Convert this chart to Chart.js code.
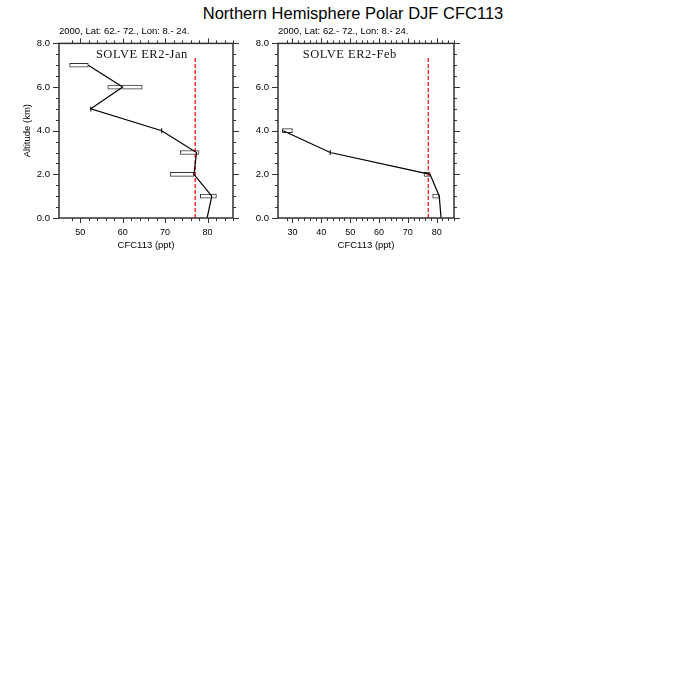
<!DOCTYPE html>
<html>
<head>
<meta charset="utf-8">
<script src="https://cdn.jsdelivr.net/npm/chart.js@4.4.0/dist/chart.umd.min.js"></script>
<style>
  body { margin: 0; background: #fff; }
  #page { position: relative; width: 700px; height: 700px; background: #fff; }
  #title { position: absolute; left: 3px; top: 3px; width: 700px; text-align: center;
           font: 16.5px "Liberation Sans", Arial, sans-serif; color: #000; line-height: 20px; }
  #janCanvas { position: absolute; left: 0; top: 20px; }
  #febCanvas { position: absolute; left: 250px; top: 20px; }
</style>
</head>
<body>
<div id="page">
  <div id="title">Northern Hemisphere Polar DJF CFC113</div>
  <canvas id="janCanvas" width="250" height="245"></canvas>
  <canvas id="febCanvas" width="220" height="245"></canvas>
</div>
<script>
var subTitle = '2000, Lat: 62.- 72., Lon: 8.- 24.';
var xTitle = 'CFC113 (ppt)';
var yTitle = 'Altitude (km)';
var yRange = [0, 8];
var refAlt = [0, 7.4];

// January panel
var janLabel = 'SOLVE ER2-Jan';
var janAlt = [0, 1, 2, 3, 4, 5, 6, 7];
var janLine = [79.9, 81.0, 76.8, 77.4, 69.2, 52.5, 60.0, 51.9];
var janLo = [null, 78.3, 71.2, 73.6, 69.2, 52.5, 56.5, 47.5];
var janHi = [null, 82.1, 76.8, 78.0, 69.2, 52.5, 64.6, 51.9];
var janRef = 77.1;
var janX = [45, 86];

// February panel
var febLabel = 'SOLVE ER2-Feb';
var febAlt = [0, 1, 2, 3, 4];
var febLine = [81.5, 80.9, 77.7, 43.1, 26.8];
var febLo = [null, 78.6, 75.6, 43.1, 26.5];
var febHi = [null, 80.9, 77.7, 43.1, 30.0];
var febRef = 77.1;
var febX = [25, 86];

var sans = '"Liberation Sans", Arial, sans-serif';

// frame, outward ticks on all four sides and the campaign label
var frameTicks = {
  id: 'frameTicks',
  afterDatasetsDraw: function(chart, args, opts) {
    var ctx = chart.ctx, a = chart.chartArea;
    var xs = chart.scales.x, ys = chart.scales.y;
    ctx.save();
    ctx.strokeStyle = '#333';
    ctx.lineWidth = 1.5;
    ctx.strokeRect(a.left, a.top, a.right - a.left, a.bottom - a.top);
    ctx.lineWidth = 1;
    ctx.beginPath();
    xs.ticks.forEach(function(t) {
      var px = Math.round(xs.getPixelForValue(t.value)) + 0.5;
      var len = t.value % 10 === 0 ? 5 : 3;
      ctx.moveTo(px, a.bottom); ctx.lineTo(px, a.bottom + len);
      ctx.moveTo(px, a.top); ctx.lineTo(px, a.top - len);
    });
    ys.ticks.forEach(function(t) {
      var py = Math.round(ys.getPixelForValue(t.value)) + 0.5;
      var len = t.value % 2 === 0 ? 6 : 3;
      ctx.moveTo(a.left, py); ctx.lineTo(a.left - len, py);
      ctx.moveTo(a.right, py); ctx.lineTo(a.right + len, py);
    });
    ctx.stroke();
    ctx.font = '12.5px "Liberation Serif", "Times New Roman", serif';
    ctx.letterSpacing = '0.5px';
    ctx.fillStyle = '#111';
    ctx.textAlign = 'left';
    ctx.textBaseline = 'middle';
    ctx.fillText(opts.text, xs.getPixelForValue(opts.at[0]), ys.getPixelForValue(opts.at[1]));
    ctx.restore();
  }
};

function makePanel(id, alt, line, lo, hi, ref, xr, label, labelAt, yWidth, showYTitle, padRight) {
  var boxes = [], singles = [], pts = [];
  for (var i = 0; i < alt.length; i++) {
    pts.push({x: line[i], y: alt[i]});
    if (lo[i] === null) continue;
    if (lo[i] === hi[i]) singles.push({x: lo[i], y: alt[i]});
    else boxes.push({y: alt[i], x: [lo[i], hi[i]]});
  }
  return new Chart(document.getElementById(id), {
    type: 'line',
    data: {
      datasets: [
        {
          data: pts, borderColor: '#000', borderWidth: 1.2, pointRadius: 0,
          tension: 0, fill: false, order: 0
        },
        {
          type: 'scatter', data: singles, pointStyle: 'line', rotation: 90,
          pointRadius: 2.5, borderColor: '#000', borderWidth: 1, order: 1
        },
        {
          data: refAlt.map(function(a) { return {x: ref, y: a}; }),
          borderColor: '#ff2020', borderWidth: 1.4, borderDash: [4, 2],
          pointRadius: 0, fill: false, order: 2
        },
        {
          type: 'bar', indexAxis: 'y', data: boxes, barThickness: 4,
          backgroundColor: '#fff', borderColor: '#333', borderWidth: 1,
          borderSkipped: false, order: 3
        }
      ]
    },
    options: {
      responsive: false,
      animation: false,
      devicePixelRatio: 1,
      layout: { padding: { top: 6, right: padRight, bottom: 7, left: 0 } },
      plugins: {
        legend: { display: false },
        tooltip: { enabled: false },
        title: {
          display: true, text: subTitle, align: 'start', fullSize: false,
          color: '#000', font: { family: sans, size: 9.5, weight: 'normal' },
          padding: { top: 0, bottom: 6 }
        },
        frameTicks: { text: label, at: labelAt }
      },
      scales: {
        x: {
          type: 'linear', min: xr[0], max: xr[1], offset: false,
          afterBuildTicks: function(s) {
            s.ticks = s.ticks.filter(function(t) { return t.value % 2 === 0; });
          },
          afterFit: function(s) { s.height = 40; },
          grid: { display: false, drawTicks: true, tickLength: 6 },
          border: { display: false },
          ticks: {
            stepSize: 2, autoSkip: false, maxRotation: 0, padding: 3, color: '#000',
            font: { family: sans, size: 9 },
            callback: function(v) { return v % 10 === 0 ? String(v) : ''; }
          },
          title: {
            display: true, text: xTitle, color: '#000',
            font: { family: sans, size: 9.5 }, padding: { top: 0, bottom: 7 }
          }
        },
        y: {
          type: 'linear', min: yRange[0], max: yRange[1], offset: false,
          afterFit: function(s) { s.width = yWidth; },
          grid: { display: false, drawTicks: true, tickLength: 6 },
          border: { display: false },
          ticks: {
            stepSize: 0.5, autoSkip: false, padding: 3, color: '#000',
            font: { family: sans, size: 9.5 },
            callback: function(v) { return v % 2 === 0 ? v.toFixed(1) : ''; }
          },
          title: {
            display: showYTitle, text: yTitle, color: '#000',
            font: { family: sans, size: 9.5 }, padding: { top: 22, bottom: 0 }
          }
        }
      }
    },
    plugins: [frameTicks]
  });
}

makePanel('janCanvas', janAlt, janLine, janLo, janHi, janRef, janX, janLabel, [53.7, 7.47], 59, true, 17);
makePanel('febCanvas', febAlt, febLine, febLo, febHi, febRef, febX, febLabel, [33.6, 7.47], 28, false, 16);
</script>
</body>
</html>
